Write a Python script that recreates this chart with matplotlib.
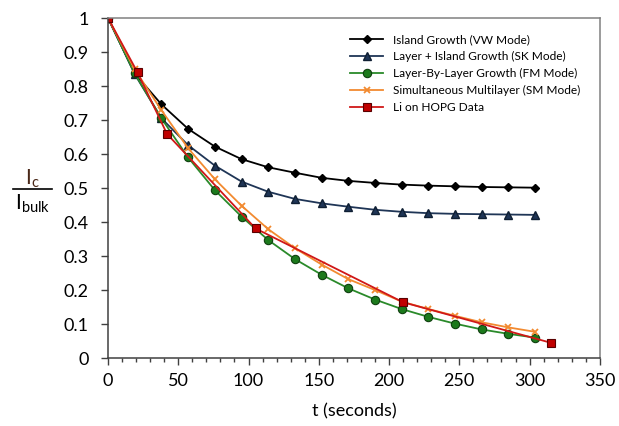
import matplotlib
matplotlib.use("Agg")
import matplotlib.pyplot as plt
from matplotlib.lines import Line2D
from matplotlib.ticker import MultipleLocator

plt.rcParams['font.family'] = ['Lato', 'DejaVu Sans']

# model curves share the same time grid
t_model = [0, 19, 38, 57, 76, 95, 114, 133, 152, 171, 190, 209, 228, 247, 266, 285, 304]
vw = [1.0, 0.837, 0.746, 0.674, 0.622, 0.585, 0.561, 0.545, 0.530, 0.521,
      0.515, 0.510, 0.507, 0.505, 0.503, 0.502, 0.501]
sk = [1.0, 0.835, 0.705, 0.626, 0.566, 0.519, 0.489, 0.468, 0.455, 0.445,
      0.436, 0.430, 0.426, 0.424, 0.423, 0.422, 0.421]
fm = [1.0, 0.837, 0.705, 0.590, 0.494, 0.416, 0.347, 0.291, 0.245, 0.205,
      0.172, 0.144, 0.121, 0.101, 0.084, 0.071, 0.060]
sm = [1.0, 0.849, 0.729, 0.617, 0.526, 0.448, 0.379, 0.323, 0.275, 0.232,
      0.200, 0.166, 0.144, 0.124, 0.105, 0.090, 0.077]

# measured data
t_li = [0, 21, 42, 105, 210, 315]
li = [1.0, 0.840, 0.659, 0.381, 0.164, 0.045]

fig = plt.figure(figsize=(6.19, 4.26), dpi=100)
ax = fig.add_axes([0.1745, 0.1596, 0.7945, 0.7981])

ax.plot(t_model, vw, color='black', marker='D', ms=4, lw=1.3,
        mfc='black', mec='black', label='Island Growth (VW Mode)')
ax.plot(t_model, sk, color='#1f3556', marker='^', ms=6, lw=1.3,
        mfc='#1f3556', mec='#0f1f33', label='Layer + Island Growth (SK Mode)')
ax.plot(t_model, fm, color='#2a8a2a', marker='o', ms=6, lw=1.3,
        mfc='#1c7a1c', mec='#0f3f0f', mew=0.8, label='Layer-By-Layer Growth (FM Mode)')
ax.plot(t_model, sm, color='#f28a30', marker='x', ms=5, mew=1.3, lw=1.3,
        label='Simultaneous Multilayer (SM Mode)')
ax.plot(t_li, li, color='#d01818', marker='s', ms=5.5, lw=1.3,
        mfc='#c00000', mec='#5a0000', mew=0.8, label='Li on HOPG Data')

ax.set_xlim(0, 350)
ax.set_ylim(0, 1)
ax.xaxis.set_major_locator(MultipleLocator(50))
ax.xaxis.set_minor_locator(MultipleLocator(10))
ax.set_yticks([0, 0.1, 0.2, 0.3, 0.4, 0.5, 0.6, 0.7, 0.8, 0.9, 1.0])
ax.set_yticklabels(['0', '0.1', '0.2', '0.3', '0.4', '0.5', '0.6', '0.7', '0.8', '0.9', '1'])
ax.tick_params(axis='both', which='major', direction='out', length=5,
               width=1, labelsize=13, color='#404040')
ax.tick_params(axis='x', which='major', pad=6)
ax.tick_params(axis='y', which='major', pad=9)
ax.tick_params(axis='x', which='minor', direction='out', length=3,
               width=1, color='#404040')
for side in ['left', 'bottom']:
    ax.spines[side].set_color('#404040')
    ax.spines[side].set_linewidth(1.1)
for side in ['top', 'right']:
    ax.spines[side].set_color('#808080')
    ax.spines[side].set_linewidth(1.1)

ax.set_xlabel('t (seconds)', fontsize=13, labelpad=10)

# fraction-style y label
fig.text(0.053, 0.566, r'$\mathregular{I_c}$', fontsize=15, ha='center', va='baseline',
         color='#4a2818')
fig.text(0.052, 0.508, r'$\mathregular{I_{bulk}}$', fontsize=15, ha='center', va='baseline')
fig.add_artist(Line2D([0.021, 0.084], [0.556, 0.556], color='black', lw=1.2,
                      transform=fig.transFigure))

ax.legend(loc='upper left', bbox_to_anchor=(0.47, 0.985), frameon=False,
          fontsize=8.6, handlelength=2.8, labelspacing=0.5, handletextpad=0.8)

fig.savefig('out.png', dpi=100)
